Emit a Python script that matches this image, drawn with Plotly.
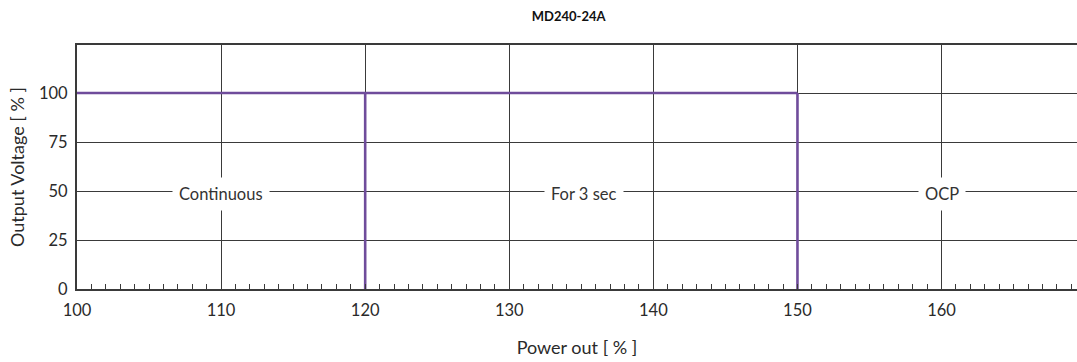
import plotly.graph_objects as go

# Data
title_text = "MD240-24A"
x_title = "Power out [ % ]"
y_title = "Output Voltage [ % ]"

# Step curve segments (power %, voltage %), None separates segments
curve_x = [100, 150, None, 120, 120, None, 150, 150]
curve_y = [100, 100, None, 100, 0, None, 100, 0]

x_ticks = [100, 110, 120, 130, 140, 150, 160]
x_ticklabels = ["100", "110", "120", "130", "140", "150", "160"]
y_ticks = [0, 25, 50, 75, 100]

region_labels = ["Continuous", "For 3 sec", "OCP"]
region_x = [110, 135.2, 160]
region_y = [50, 50, 50]

x_range = [100, 169.4]
y_range = [0, 124.5]

FONT = "Lato, 'Open Sans', sans-serif"
GRID = "#3a3a3a"
PURPLE = "#6f4c9b"

fig = go.Figure()
fig.add_trace(go.Scatter(
    x=curve_x, y=curve_y, mode="lines",
    line=dict(color=PURPLE, width=2.6),
    connectgaps=False, showlegend=False, hoverinfo="skip",
))

for txt, xx, yy in zip(region_labels, region_x, region_y):
    fig.add_annotation(
        x=xx, y=yy, xref="x", yref="y", text=txt, showarrow=False,
        font=dict(family=FONT, size=16.5, color="#333333"),
        bgcolor="white", borderpad=6, yshift=-3,
    )

fig.update_layout(
    width=1077, height=362,
    margin=dict(l=77, r=0, t=45, b=73),
    paper_bgcolor="white", plot_bgcolor="white",
    title=dict(text="<b>" + title_text + "</b>", x=0.528, xanchor="center",
               y=0.955, yanchor="middle",
               font=dict(family=FONT, size=13, color="#111111")),
    xaxis=dict(
        range=x_range, tickvals=x_ticks, ticktext=x_ticklabels,
        showgrid=True, gridcolor=GRID, gridwidth=1.3,
        showline=True, linecolor=GRID, linewidth=2.2, mirror=True,
        ticks="inside", ticklen=5, tickcolor=GRID, tickwidth=1,
        minor=dict(dtick=1, tick0=100, ticks="inside", ticklen=5,
                   tickcolor=GRID, tickwidth=1, showgrid=False),
        zeroline=False, ticklabelstandoff=5,
        tickfont=dict(family=FONT, size=16.5, color="#2a2a2a"),
        title=dict(text=x_title, standoff=22,
                   font=dict(family=FONT, size=18, color="#2a2a2a")),
    ),
    yaxis=dict(
        range=y_range, tickvals=y_ticks,
        showgrid=True, gridcolor=GRID, gridwidth=1.3,
        showline=True, linecolor=GRID, linewidth=2.2, mirror=False,
        ticks="", zeroline=False, ticklabelstandoff=4,
        tickfont=dict(family=FONT, size=16.5, color="#2a2a2a"),
        title=dict(text=y_title, standoff=10,
                   font=dict(family=FONT, size=18, color="#2a2a2a")),
    ),
)

fig.write_html("out.html")
